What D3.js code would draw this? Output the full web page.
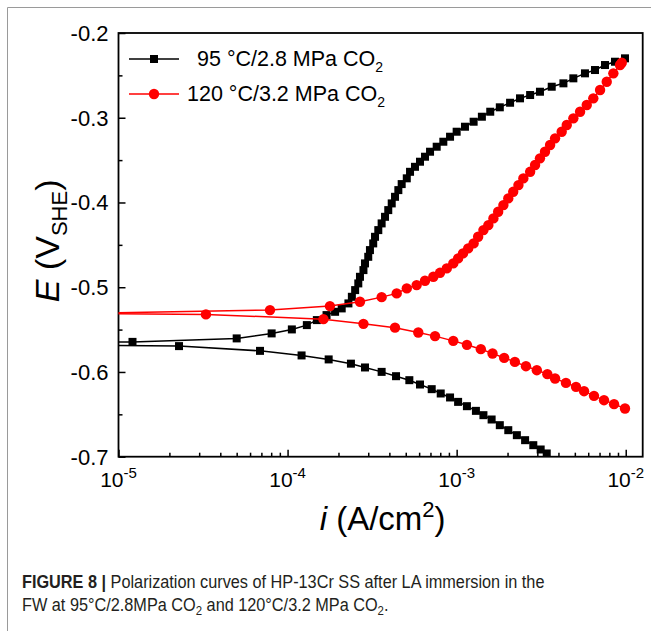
<!DOCTYPE html>
<html>
<head>
<meta charset="utf-8">
<script src="https://cdn.jsdelivr.net/npm/d3@7"></script>
<style>
  body { margin: 0; background: #fff; }
  svg text { font-family: Arial, "Liberation Sans", sans-serif; }
</style>
</head>
<body>
<svg id="chart" width="651" height="631"></svg>
<script>
// 95 °C / 2.8 MPa CO2 : anodic branch (current A/cm2, potential V)
const black95AnodicI = [5e-6, 1.21e-5, 5.00e-5, 8.05e-5, 1.06e-4, 1.30e-4, 1.49e-4, 1.70e-4, 1.91e-4, 2.09e-4, 2.29e-4,
  2.40e-4, 2.51e-4, 2.62e-4, 2.68e-4, 2.81e-4, 2.87e-4, 3.00e-4, 3.07e-4, 3.21e-4, 3.29e-4, 3.44e-4, 3.60e-4, 3.77e-4,
  3.94e-4, 4.13e-4, 4.32e-4, 4.52e-4, 4.73e-4, 5.07e-4, 5.30e-4, 5.67e-4, 6.07e-4, 6.50e-4, 6.96e-4, 7.62e-4, 8.34e-4,
  9.14e-4, 1.00e-3, 1.12e-3, 1.26e-3, 1.41e-3, 1.58e-3, 1.80e-3, 2.07e-3, 2.37e-3, 2.72e-3, 3.11e-3, 3.65e-3, 4.28e-3,
  4.90e-3, 5.74e-3, 6.58e-3, 7.54e-3, 8.64e-3, 9.90e-3];
const black95AnodicE = [-0.5645, -0.5645, -0.5604, -0.5545, -0.5498, -0.5447, -0.5388, -0.5329, -0.529, -0.525, -0.5191,
  -0.5113, -0.5034, -0.4955, -0.4877, -0.4798, -0.4719, -0.4641, -0.4562, -0.4483, -0.4405, -0.4326, -0.4247, -0.4169,
  -0.409, -0.4011, -0.3933, -0.3854, -0.3783, -0.3715, -0.3638, -0.3579, -0.3519, -0.346, -0.3401, -0.3342, -0.3283,
  -0.3224, -0.3165, -0.3106, -0.3047, -0.2988, -0.2929, -0.2877, -0.2823, -0.2771, -0.2732, -0.2693, -0.2634, -0.2594,
  -0.2535, -0.2476, -0.2437, -0.2378, -0.2339, -0.2299];

// 95 °C / 2.8 MPa CO2 : cathodic branch
const black95CathodicI = [5e-6, 2.28e-5, 6.87e-5, 1.21e-4, 1.75e-4, 2.37e-4, 2.87e-4, 3.60e-4, 4.38e-4, 5.25e-4, 6.07e-4,
  7.12e-4, 8.05e-4, 9.14e-4, 1.02e-3, 1.15e-3, 1.30e-3, 1.44e-3, 1.61e-3, 1.80e-3, 2.02e-3, 2.27e-3, 2.54e-3, 2.84e-3,
  3.14e-3, 3.41e-3];
const black95CathodicE = [-0.568, -0.5695, -0.5751, -0.5805, -0.5852, -0.5902, -0.5947, -0.5999, -0.605, -0.6097, -0.6148,
  -0.6203, -0.6254, -0.6301, -0.6353, -0.6404, -0.6459, -0.651, -0.6561, -0.6628, -0.6687, -0.6746, -0.6805, -0.6864,
  -0.6915, -0.6962];

// 120 °C / 3.2 MPa CO2 : anodic branch
const red120AnodicI = [5e-6, 7.87e-5, 1.78e-4, 2.68e-4, 3.60e-4, 4.42e-4, 5.07e-4, 5.80e-4, 6.50e-4, 7.28e-4, 7.97e-4,
  8.74e-4, 9.55e-4, 1.02e-3, 1.09e-3, 1.17e-3, 1.26e-3, 1.34e-3, 1.44e-3, 1.54e-3, 1.65e-3, 1.76e-3, 1.89e-3, 2.02e-3,
  2.16e-3, 2.32e-3, 2.48e-3, 2.72e-3, 2.91e-3, 3.11e-3, 3.33e-3, 3.57e-3, 3.82e-3, 4.18e-3, 4.48e-3, 4.90e-3, 5.37e-3,
  5.88e-3, 6.43e-3, 7.05e-3, 7.72e-3, 8.45e-3, 9.25e-3, 9.47e-3];
const red120AnodicE = [-0.531, -0.527, -0.5223, -0.5172, -0.5117, -0.5073, -0.5014, -0.4975, -0.4924, -0.4877, -0.483,
  -0.4778, -0.4719, -0.466, -0.4601, -0.4542, -0.4483, -0.4405, -0.4326, -0.4267, -0.4188, -0.411, -0.4031, -0.3952,
  -0.3874, -0.3795, -0.3716, -0.3638, -0.3558, -0.3479, -0.3401, -0.3322, -0.3243, -0.3165, -0.3086, -0.3007, -0.2929,
  -0.285, -0.2771, -0.2673, -0.2575, -0.2476, -0.2378, -0.2351];

// 120 °C / 3.2 MPa CO2 : cathodic branch
const red120CathodicI = [5e-6, 3.29e-5, 1.63e-4, 2.81e-4, 4.32e-4, 5.93e-4, 7.45e-4, 9.55e-4, 1.15e-3, 1.39e-3, 1.63e-3,
  1.91e-3, 2.21e-3, 2.57e-3, 2.98e-3, 3.44e-3, 3.82e-3, 4.43e-3, 5.08e-3, 5.67e-3, 6.49e-3, 7.44e-3, 8.53e-3, 9.90e-3];
const red120CathodicE = [-0.531, -0.5321, -0.5377, -0.5432, -0.5477, -0.5534, -0.5577, -0.5633, -0.568, -0.5731, -0.5782,
  -0.5834, -0.5881, -0.5932, -0.5979, -0.6026, -0.6077, -0.6129, -0.6176, -0.6227, -0.6282, -0.6333, -0.638, -0.6431];

const xMajorTicks = [1e-5, 1e-4, 1e-3, 1e-2];
const yMajorTicks = [-0.7, -0.6, -0.5, -0.4, -0.3, -0.2];
const yMinorTicks = [-0.65, -0.55, -0.45, -0.35, -0.25];
const legendLabels = ["95 °C/2.8 MPa CO", "120 °C/3.2 MPa CO"];

var svg = d3.select("#chart");

// thin frame round the figure
svg.append("path")
  .attr("d", "M7.5,640 L7.5,7.5 L660,7.5")
  .attr("fill", "none")
  .attr("stroke", "#9a9a9a")
  .attr("stroke-width", 1);

var margin = {left: 118.5, top: 33, right: 8.3, bottom: 174.3},
    width = 651 - margin.left - margin.right,
    height = 631 - margin.top - margin.bottom;

var xScale = d3.scaleLog().domain([1e-5, 0.0126]).range([0, width]),
    yScale = d3.scaleLinear().domain([-0.7, -0.2]).range([height, 0]);

var g = svg.append("g")
  .attr("transform", "translate(" + margin.left + "," + margin.top + ")");

g.append("clipPath").attr("id", "plotClip")
  .append("rect").attr("width", width).attr("height", height);

// minor x ticks (2..9 of each decade)
var xMinor = [];
[1e-5, 1e-4, 1e-3, 1e-2].forEach(function(dec) {
  for (var k = 2; k <= 9; k++) {
    if (dec * k < 0.0126) xMinor.push(dec * k);
  }
});

var axisColor = "#000";
g.append("g")
  .attr("transform", "translate(0," + height + ")")
  .call(d3.axisBottom(xScale).tickValues(xMinor).tickSize(-4).tickFormat(""))
  .call(function(a) { a.select(".domain").remove(); });

g.append("g")
  .attr("transform", "translate(0," + height + ")")
  .call(d3.axisBottom(xScale).tickValues(xMajorTicks).tickSize(-7).tickSizeOuter(0).tickFormat(""))
  .call(function(a) { a.select(".domain").remove(); });

g.append("g")
  .call(d3.axisLeft(yScale).tickValues(yMinorTicks).tickSize(-4).tickFormat(""))
  .call(function(a) { a.select(".domain").remove(); });

g.append("g")
  .call(d3.axisLeft(yScale).tickValues(yMajorTicks).tickSize(-7).tickSizeOuter(0).tickFormat(""))
  .call(function(a) { a.select(".domain").remove(); });

g.selectAll(".tick line").attr("stroke", axisColor).attr("stroke-width", 1.5);

// frame of the plot
g.append("rect")
  .attr("width", width).attr("height", height)
  .attr("fill", "none").attr("stroke", axisColor).attr("stroke-width", 1.8);

// y tick labels
g.selectAll(".ylab")
  .data(yMajorTicks)
  .enter().append("text")
  .attr("class", "ylab")
  .attr("x", -10)
  .attr("y", function(d) { return yScale(d); })
  .attr("dy", "0.36em")
  .attr("text-anchor", "end")
  .attr("font-size", "22px")
  .text(function(d) { return d.toFixed(1); });

// x tick labels 10^n
var xl = g.selectAll(".xlab")
  .data(xMajorTicks)
  .enter().append("text")
  .attr("class", "xlab")
  .attr("x", function(d) { return xScale(d); })
  .attr("y", height + 30)
  .attr("text-anchor", "middle")
  .attr("font-size", "21px");
xl.append("tspan").text("10");
xl.append("tspan").attr("dy", -9).attr("font-size", "15px")
  .text(function(d) { return "-" + Math.round(-Math.log10(d)); });

// axis titles
var xt = svg.append("text")
  .attr("x", margin.left + width / 2 + 2)
  .attr("y", 530)
  .attr("text-anchor", "middle")
  .attr("font-size", "33px");
xt.append("tspan").attr("font-style", "italic").text("i");
xt.append("tspan").text(" (A/cm");
xt.append("tspan").attr("dy", -13).attr("font-size", "22px").text("2");
xt.append("tspan").attr("dy", 13).text(")");

var yt = svg.append("text")
  .attr("transform", "translate(59," + (margin.top + height / 2 - 4) + ") rotate(-90)")
  .attr("text-anchor", "middle")
  .attr("font-size", "34px");
yt.append("tspan").attr("font-style", "italic").text("E");
yt.append("tspan").text(" (V");
yt.append("tspan").attr("dy", 8).attr("font-size", "22px").text("SHE");
yt.append("tspan").attr("dy", -8).text(")");

// series
var series = [
  {name: "b_a", i: black95AnodicI, e: black95AnodicE, color: "#000", shape: "square"},
  {name: "b_c", i: black95CathodicI, e: black95CathodicE, color: "#000", shape: "square"},
  {name: "r_a", i: red120AnodicI, e: red120AnodicE, color: "#ff0000", shape: "circle"},
  {name: "r_c", i: red120CathodicI, e: red120CathodicE, color: "#ff0000", shape: "circle"}
];

var line = d3.line()
  .x(function(d) { return xScale(d[0]); })
  .y(function(d) { return yScale(d[1]); });

var plot = g.append("g").attr("clip-path", "url(#plotClip)");

series.forEach(function(s) {
  var pts = s.i.map(function(v, k) { return [v, s.e[k]]; });
  plot.append("path")
    .datum(pts)
    .attr("fill", "none")
    .attr("stroke", s.color)
    .attr("stroke-width", 1.5)
    .attr("d", line);
  if (s.shape === "square") {
    plot.selectAll(".m-" + s.name)
      .data(pts)
      .enter().append("rect")
      .attr("class", "m-" + s.name)
      .attr("x", function(d) { return xScale(d[0]) - 4; })
      .attr("y", function(d) { return yScale(d[1]) - 4; })
      .attr("width", 8).attr("height", 8)
      .attr("fill", s.color);
  } else {
    plot.selectAll(".m-" + s.name)
      .data(pts)
      .enter().append("circle")
      .attr("class", "m-" + s.name)
      .attr("cx", function(d) { return xScale(d[0]); })
      .attr("cy", function(d) { return yScale(d[1]); })
      .attr("r", 5.2)
      .attr("fill", s.color);
  }
});

// legend
var legend = svg.append("g");
var legRows = [
  {y: 59, color: "#000", shape: "square", text: legendLabels[0], tx: 197},
  {y: 94, color: "#ff0000", shape: "circle", text: legendLabels[1], tx: 187}
];
legRows.forEach(function(r) {
  legend.append("line")
    .attr("x1", 129).attr("x2", 179)
    .attr("y1", r.y).attr("y2", r.y)
    .attr("stroke", r.color).attr("stroke-width", 1.5);
  if (r.shape === "square") {
    legend.append("rect").attr("x", 150).attr("y", r.y - 4)
      .attr("width", 8).attr("height", 8).attr("fill", r.color);
  } else {
    legend.append("circle").attr("cx", 154).attr("cy", r.y).attr("r", 5.2).attr("fill", r.color);
  }
  var t = legend.append("text")
    .attr("x", r.tx).attr("y", r.y + 7)
    .attr("font-size", "21.5px");
  t.append("tspan").text(r.text);
  t.append("tspan").attr("dy", 6).attr("font-size", "14px").text("2");
});

// caption (condensed look: larger type squeezed horizontally)
var cap = svg.append("g")
  .attr("transform", "translate(22,0) scale(0.88,1)")
  .attr("font-size", "18.5px")
  .attr("fill", "#231f20");
var c1 = cap.append("text").attr("x", 0).attr("y", 588);
c1.append("tspan").attr("font-weight", "bold").text("FIGURE 8 |");
c1.append("tspan").text(" Polarization curves of HP-13Cr SS after LA immersion in the");
var c2 = cap.append("text").attr("x", 0).attr("y", 611);
c2.append("tspan").text("FW at 95°C/2.8MPa CO");
c2.append("tspan").attr("dy", 4).attr("font-size", "13px").text("2");
c2.append("tspan").attr("dy", -4).text(" and 120°C/3.2 MPa CO");
c2.append("tspan").attr("dy", 4).attr("font-size", "13px").text("2");
c2.append("tspan").attr("dy", -4).text(".");
</script>
</body>
</html>
